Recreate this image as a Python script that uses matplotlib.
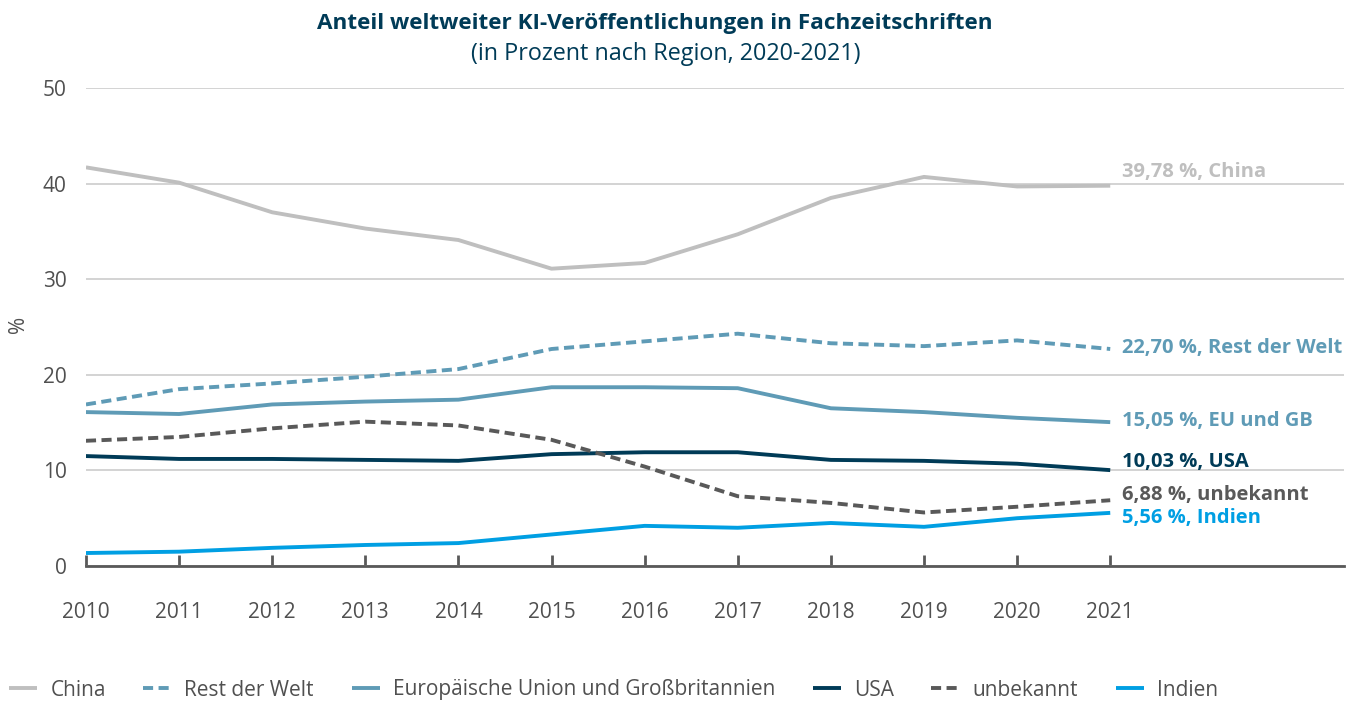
import matplotlib.pyplot as plt
import numpy as np

plt.rcParams['font.family'] = ['Open Sans', 'DejaVu Sans']

# Data
years = [2010, 2011, 2012, 2013, 2014, 2015, 2016, 2017, 2018, 2019, 2020, 2021]
china = [41.7, 40.1, 37.0, 35.3, 34.1, 31.1, 31.7, 34.7, 38.5, 40.7, 39.7, 39.78]
rest = [16.9, 18.5, 19.1, 19.8, 20.6, 22.7, 23.5, 24.3, 23.3, 23.0, 23.6, 22.70]
eu_gb = [16.1, 15.9, 16.9, 17.2, 17.4, 18.7, 18.7, 18.6, 16.5, 16.1, 15.5, 15.05]
usa = [11.5, 11.2, 11.2, 11.1, 11.0, 11.7, 11.9, 11.9, 11.1, 11.0, 10.7, 10.03]
unbekannt = [13.1, 13.5, 14.4, 15.1, 14.7, 13.2, 10.4, 7.3, 6.6, 5.6, 6.2, 6.88]
indien = [1.36, 1.5, 1.9, 2.2, 2.4, 3.3, 4.2, 4.0, 4.5, 4.1, 5.0, 5.56]

names = ['China', 'Rest der Welt', 'Europäische Union und Großbritannien',
         'USA', 'unbekannt', 'Indien']
short = ['China', 'Rest der Welt', 'EU und GB', 'USA', 'unbekannt', 'Indien']
series = [china, rest, eu_gb, usa, unbekannt, indien]
colors = ['#bfbfbf', '#5f9bb6', '#5f9bb6', '#003b57', '#595959', '#009fe3']
styles = ['-', '--', '-', '-', '--', '-']
label_shift = [1.4, 0.1, 0.15, 0.8, 0.5, -0.55]

fig = plt.figure(figsize=(13.6, 7.04), dpi=100)
ax = fig.add_axes([0.0632, 0.196, 0.925, 0.679])

for vals, name, c, ls, sh, nm in zip(series, names, colors, styles, label_shift, short):
    ax.plot(years, vals, color=c, linestyle=ls, linewidth=2.8, label=name,
            dashes=(2.6, 1.4) if ls == '--' else (None, None), solid_capstyle='butt')
    ax.text(years[-1] + 0.13, vals[-1] + sh,
            f"{vals[-1]:.2f} %, {nm}".replace('.', ','),
            color=c, fontsize=14.5, fontweight='bold', va='center', ha='left')

ax.set_xlim(2010, 2023.51)
ax.set_ylim(0, 50)
ax.set_yticks([0, 10, 20, 30, 40, 50])
ax.set_xticks(years)
ax.grid(axis='y', color='#cccccc', linewidth=1.2)
ax.set_axisbelow(True)
for s in ['top', 'right', 'left']:
    ax.spines[s].set_visible(False)
ax.spines['bottom'].set_color('#595959')
ax.spines['bottom'].set_linewidth(2)
ax.tick_params(axis='x', direction='in', length=8, width=2, color='#595959',
               pad=26, labelsize=15, labelcolor='#505050')
ax.tick_params(axis='y', length=0, pad=14, labelsize=15, labelcolor='#505050')
ax.set_ylabel('%', fontsize=15, color='#505050', va='center')
ax.yaxis.set_label_coords(-0.054, 0.505)

fig.text(655 / 1360, 0.967, 'Anteil weltweiter KI-Veröffentlichungen in Fachzeitschriften',
         ha='center', va='center', fontsize=16.2, fontweight='bold', color='#003b57')
fig.text(666 / 1360, 0.923, '(in Prozent nach Region, 2020-2021)',
         ha='center', va='center', fontsize=16.8, color='#003b57')

leg = fig.legend(loc='center left', bbox_to_anchor=(9 / 1360, 1 - 690 / 704), ncol=6,
                 frameon=False, fontsize=15, handlelength=1.35, columnspacing=1.8,
                 handletextpad=0.63, borderaxespad=0.0, borderpad=0.0)
for t in leg.get_texts():
    t.set_color('#505050')

fig.savefig('out.png', dpi=100)
